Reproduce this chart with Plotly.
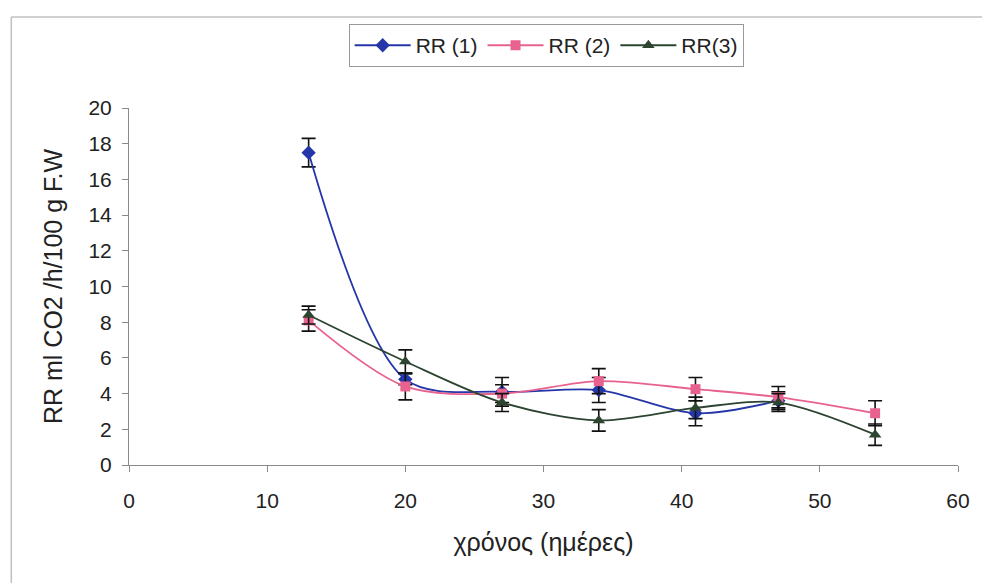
import plotly.graph_objects as go

# Sampling days
days = [13, 20, 27, 34, 41, 47, 54]

# Respiration rate (ml CO2 /h/100 g F.W) and standard errors
rr1 = [17.5, 4.8, 4.1, 4.2, 2.9, 3.6]
rr1_err = [0.8, 0.3, 0.8, 0.7, 0.7, 0.5]
rr2 = [8.1, 4.4, 4.0, 4.7, 4.25, 3.8, 2.9]
rr2_err = [0.6, 0.75, 0.5, 0.7, 0.65, 0.6, 0.7]
rr3 = [8.4, 5.8, 3.5, 2.5, 3.2, 3.5, 1.7]
rr3_err = [0.5, 0.65, 0.5, 0.6, 0.6, 0.5, 0.6]

series = [
    ("RR (1)", days[:len(rr1)], rr1, rr1_err, "#2436a8", "diamond", 11),
    ("RR (2)", days, rr2, rr2_err, "#e8628f", "square", 10),
    ("RR(3)", days, rr3, rr3_err, "#2c4430", "triangle-up", 11),
]

fig = go.Figure()
for name, xs, ys, errs, color, symbol, size in series:
    fig.add_trace(go.Scatter(
        x=xs, y=ys, name=name, mode="lines+markers",
        line=dict(color=color, width=1.8, shape="spline", smoothing=0.9),
        marker=dict(color=color, symbol=symbol, size=size),
        error_y=dict(type="data", array=errs, visible=True,
                     color="#111111", thickness=1.6, width=7),
    ))

family = "Liberation Sans, Arial, sans-serif"
tick_font = dict(family=family, size=21, color="#222222")
title_font = dict(family=family, size=25, color="#222222")

fig.update_layout(
    width=982, height=583,
    margin=dict(l=129, r=20, t=108, b=118),
    paper_bgcolor="white", plot_bgcolor="white",
    font=tick_font,
    showlegend=True,
    legend=dict(
        orientation="h", x=0.265, y=1.235, xanchor="left", yanchor="top",
        bordercolor="#999999", borderwidth=1, bgcolor="white",
        font=dict(family=family, size=21, color="#222222"),
        itemwidth=56, tracegroupgap=0,
    ),
    xaxis=dict(
        range=[0, 60], dtick=10, tick0=0,
        showline=True, linecolor="#8a8a8a", linewidth=1,
        ticks="outside", ticklen=6, tickcolor="#8a8a8a",
        showgrid=False, zeroline=False,
        tickfont=tick_font, ticklabelstandoff=11,
        title=dict(text="χρόνος (ημέρες)", font=title_font, standoff=22),
    ),
    yaxis=dict(
        range=[0, 20], dtick=2, tick0=0,
        showline=True, linecolor="#8a8a8a", linewidth=1,
        ticks="outside", ticklen=6, tickcolor="#8a8a8a",
        showgrid=False, zeroline=False,
        tickfont=tick_font, ticklabelstandoff=6,
        title=dict(text="RR ml CO2 /h/100 g F.W", font=title_font, standoff=18),
    ),
    shapes=[
        dict(type="line", xref="paper", yref="paper",
             x0=-0.142, x1=1.03, y0=1.255, y1=1.255,
             line=dict(color="#c0c0c0", width=1.5)),
        dict(type="line", xref="paper", yref="paper",
             x0=-0.142, x1=-0.142, y0=1.255, y1=-0.34,
             line=dict(color="#c0c0c0", width=1.5)),
    ],
)

fig.write_html("out.html")
